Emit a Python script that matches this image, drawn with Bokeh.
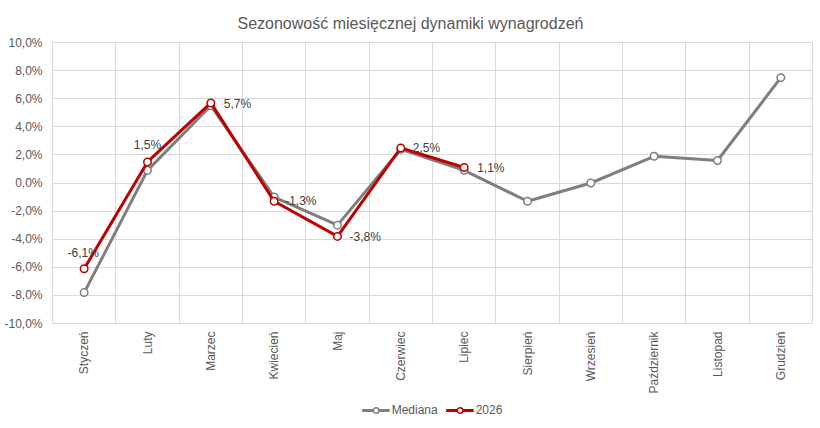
import math
from bokeh.plotting import figure
from bokeh.layouts import column
from bokeh.models import FixedTicker, Legend, LegendItem, ColumnDataSource
from bokeh.core.properties import value
from bokeh.embed import file_html
from bokeh.resources import INLINE

months = ["Styczeń", "Luty", "Marzec", "Kwiecień", "Maj", "Czerwiec", "Lipiec",
          "Sierpień", "Wrzesień", "Październik", "Listopad", "Grudzień"]
mediana = [-7.8, 0.9, 5.5, -1.0, -3.0, 2.4, 0.9, -1.3, 0.0, 1.9, 1.6, 7.5]
values_2026 = [-6.1, 1.5, 5.7, -1.3, -3.8, 2.5, 1.1]
labels_2026 = ["-6,1%", "1,5%", "5,7%", "-1,3%", "-3,8%", "2,5%", "1,1%"]
y_ticks = [-10, -8, -6, -4, -2, 0, 2, 4, 6, 8, 10]
y_tick_labels = ["-10,0%", "-8,0%", "-6,0%", "-4,0%", "-2,0%", "0,0%",
                 "2,0%", "4,0%", "6,0%", "8,0%", "10,0%"]

# label placement styles (pixels)
lab_dx = [-1, 0, 13, 11, 12, 12, 13]
lab_dy = [-16, -17, 1, 0, 1, 0, 0]
lab_align = ["center", "center", "left", "left", "left", "left", "left"]

FONT = "Liberation Sans"
GRAY = "#7f7f7f"
RED = "#c00000"
TXT = "#595959"

xs = [i + 0.5 for i in range(len(months))]
xs26 = xs[:len(values_2026)]

p = figure(width=816, height=396, x_range=(0, 12), y_range=(-10, 10),
           output_backend="svg", toolbar_location=None,
           min_border_left=52, min_border_right=4, min_border_top=42,
           min_border_bottom=72)

p.title.text = "Sezonowość miesięcznej dynamiki wynagrodzeń"
p.title.align = "left"
p.title.offset = 185
p.title.text_font = FONT
p.title.text_font_size = "16px"
p.title.text_font_style = "normal"
p.title.text_color = TXT
p.title.standoff = 22

p.outline_line_color = "#d9d9d9"
p.background_fill_color = "white"
p.border_fill_color = "white"

p.xgrid.ticker = FixedTicker(ticks=list(range(13)))
p.xgrid.grid_line_color = "#d9d9d9"
p.ygrid.grid_line_color = "#d9d9d9"

p.xaxis.ticker = FixedTicker(ticks=xs)
p.xaxis.major_label_overrides = {x: m for x, m in zip(xs, months)}
p.xaxis.major_label_orientation = math.pi / 2
p.yaxis.ticker = FixedTicker(ticks=y_ticks)
p.yaxis.major_label_overrides = {t: l for t, l in zip(y_ticks, y_tick_labels)}
p.ygrid.ticker = FixedTicker(ticks=y_ticks)

for ax in (p.xaxis, p.yaxis):
    ax.axis_line_color = None
    ax.major_tick_line_color = None
    ax.minor_tick_line_color = None
    ax.major_tick_out = 0
    ax.major_tick_in = 0
    ax.major_label_text_font = FONT
    ax.major_label_text_font_size = "12px"
    ax.major_label_text_color = TXT
p.yaxis.major_label_standoff = 10
p.xaxis.major_label_standoff = 8

src_m = ColumnDataSource(dict(x=xs, y=mediana))
src_26 = ColumnDataSource(dict(x=xs26, y=values_2026, lab=labels_2026,
                               dx=lab_dx, dy=lab_dy, al=lab_align))

p.line("x", "y", source=src_m, line_color=GRAY, line_width=3)
p.scatter("x", "y", source=src_m, size=7.5, fill_color="white",
          line_color=GRAY, line_width=1.5)
p.line("x", "y", source=src_26, line_color=RED, line_width=3)
p.scatter("x", "y", source=src_26, size=7.5, fill_color="white",
          line_color=RED, line_width=1.5)

p.text("x", "y", text="lab", source=src_26, x_offset="dx", y_offset="dy",
       text_align="al", text_baseline="middle",
       text_font=value(FONT), text_font_size="12px", text_color="#404040")

# legend strip below the chart (same series, data kept out of view)
lg = figure(width=816, height=28, x_range=(100, 101), y_range=(100, 101),
            output_backend="svg", toolbar_location=None,
            x_axis_type=None, y_axis_type=None,
            min_border_left=10, min_border_right=0, min_border_top=0,
            min_border_bottom=0)
lg.outline_line_color = None
lg.xgrid.visible = False
lg.ygrid.visible = False
ll1 = lg.line("x", "y", source=src_m, line_color=GRAY, line_width=3)
ls1 = lg.scatter("x", "y", source=src_m, size=7.5, fill_color="white",
                 line_color=GRAY, line_width=1.5)
ll2 = lg.line("x", "y", source=src_26, line_color=RED, line_width=3)
ls2 = lg.scatter("x", "y", source=src_26, size=7.5, fill_color="white",
                 line_color=RED, line_width=1.5)

legend = Legend(items=[LegendItem(label="Mediana", renderers=[ll1, ls1]),
                       LegendItem(label="2026", renderers=[ll2, ls2])],
                orientation="horizontal", location="center",
                border_line_color=None, background_fill_alpha=0,
                padding=0, margin=0, spacing=8,
                label_height=14, glyph_height=14,
                label_text_font=FONT, label_text_font_size="12px",
                label_text_color=TXT, glyph_width=28, label_standoff=2)
lg.add_layout(legend, "center")

layout = column(p, lg, spacing=0)
open("out.html", "w").write(file_html(layout, INLINE))
